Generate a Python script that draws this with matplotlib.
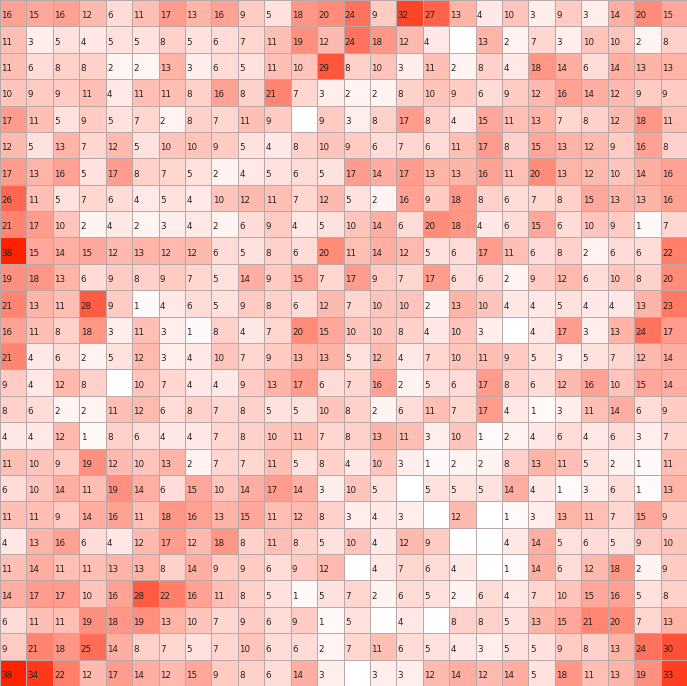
import numpy as np
import matplotlib
matplotlib.use("Agg")
import matplotlib.pyplot as plt
from matplotlib.colors import LinearSegmentedColormap

# counts per cell, row by row from the top (0 = empty cell)
row_00 = [16, 15, 16, 12, 6, 11, 17, 13, 16, 9, 5, 18, 20, 24, 9, 32, 27, 13, 4, 10, 3, 9, 3, 14, 20, 15]
row_01 = [11, 3, 5, 4, 5, 5, 8, 5, 6, 7, 11, 19, 12, 24, 18, 12, 4, 0, 13, 2, 7, 3, 10, 10, 2, 8]
row_02 = [11, 6, 8, 8, 2, 2, 13, 3, 6, 5, 11, 10, 29, 8, 10, 3, 11, 2, 8, 4, 18, 14, 6, 14, 13, 13]
row_03 = [10, 9, 9, 11, 4, 11, 11, 8, 16, 8, 21, 7, 3, 2, 2, 8, 10, 9, 6, 9, 12, 16, 14, 12, 9, 9]
row_04 = [17, 11, 5, 9, 5, 7, 2, 8, 7, 11, 9, 0, 9, 3, 8, 17, 8, 4, 15, 11, 13, 7, 8, 12, 18, 11]
row_05 = [12, 5, 13, 7, 12, 5, 10, 10, 9, 5, 4, 8, 10, 9, 6, 7, 6, 11, 17, 8, 15, 13, 12, 9, 16, 8]
row_06 = [17, 13, 16, 5, 17, 8, 7, 5, 2, 4, 5, 6, 5, 17, 14, 17, 13, 13, 16, 11, 20, 13, 12, 10, 14, 16]
row_07 = [26, 11, 5, 7, 6, 4, 5, 4, 10, 12, 11, 7, 12, 5, 2, 16, 9, 18, 8, 6, 7, 8, 15, 13, 13, 16]
row_08 = [21, 17, 10, 2, 4, 2, 3, 4, 2, 6, 9, 4, 5, 10, 14, 6, 20, 18, 4, 6, 15, 6, 10, 9, 1, 7]
row_09 = [38, 15, 14, 15, 12, 13, 12, 12, 6, 5, 8, 6, 20, 11, 14, 12, 5, 6, 17, 11, 6, 8, 2, 6, 6, 22]
row_10 = [19, 18, 13, 6, 9, 8, 9, 7, 5, 14, 9, 15, 7, 17, 9, 7, 17, 6, 6, 2, 9, 12, 6, 10, 8, 20]
row_11 = [21, 13, 11, 28, 9, 1, 4, 6, 5, 9, 8, 6, 12, 7, 10, 10, 2, 13, 10, 4, 4, 5, 4, 4, 13, 23]
row_12 = [16, 11, 8, 18, 3, 11, 3, 1, 8, 4, 7, 20, 15, 10, 10, 8, 4, 10, 3, 0, 4, 17, 3, 13, 24, 17]
row_13 = [21, 4, 6, 2, 5, 12, 3, 4, 10, 7, 9, 13, 13, 5, 12, 4, 7, 10, 11, 9, 5, 3, 5, 7, 12, 14]
row_14 = [9, 4, 12, 8, 0, 10, 7, 4, 4, 9, 13, 17, 6, 7, 16, 2, 5, 6, 17, 8, 6, 12, 16, 10, 15, 14]
row_15 = [8, 6, 2, 2, 11, 12, 6, 8, 7, 8, 5, 5, 10, 8, 2, 6, 11, 7, 17, 4, 1, 3, 11, 14, 6, 9]
row_16 = [4, 4, 12, 1, 8, 6, 4, 4, 7, 8, 10, 11, 7, 8, 13, 11, 3, 10, 1, 2, 4, 6, 4, 6, 3, 7]
row_17 = [11, 10, 9, 19, 12, 10, 13, 2, 7, 7, 11, 5, 8, 4, 10, 3, 1, 2, 2, 8, 13, 11, 5, 2, 1, 11]
row_18 = [6, 10, 14, 11, 19, 14, 6, 15, 10, 14, 17, 14, 3, 10, 5, 0, 5, 5, 5, 14, 4, 1, 3, 6, 1, 13]
row_19 = [11, 11, 9, 14, 16, 11, 18, 16, 13, 15, 11, 12, 8, 3, 4, 3, 0, 12, 0, 1, 3, 13, 11, 7, 15, 9]
row_20 = [4, 13, 16, 6, 4, 12, 17, 12, 18, 8, 11, 8, 5, 10, 4, 12, 9, 0, 0, 4, 14, 5, 6, 5, 9, 10]
row_21 = [11, 14, 11, 11, 13, 13, 8, 14, 9, 9, 6, 9, 12, 0, 4, 7, 6, 4, 0, 1, 14, 6, 12, 18, 2, 9]
row_22 = [14, 17, 17, 10, 16, 28, 22, 16, 11, 8, 5, 1, 5, 7, 2, 6, 5, 2, 6, 4, 7, 10, 15, 16, 5, 8]
row_23 = [6, 11, 11, 19, 18, 19, 13, 10, 7, 9, 6, 9, 1, 5, 0, 4, 0, 8, 8, 5, 13, 15, 21, 20, 7, 13]
row_24 = [9, 21, 18, 25, 14, 8, 7, 5, 7, 10, 6, 6, 2, 7, 11, 6, 5, 4, 3, 5, 5, 9, 8, 13, 24, 30]
row_25 = [38, 34, 22, 12, 17, 14, 12, 15, 9, 8, 6, 14, 3, 0, 3, 3, 12, 14, 12, 14, 5, 18, 11, 13, 19, 33]

grid = np.array([row_00, row_01, row_02, row_03, row_04, row_05, row_06, row_07, row_08,
                 row_09, row_10, row_11, row_12, row_13, row_14, row_15, row_16, row_17,
                 row_18, row_19, row_20, row_21, row_22, row_23, row_24, row_25])
n_rows, n_cols = grid.shape

cmap = LinearSegmentedColormap.from_list("white_red", ["#ffffff", "#ff2200"])

fig = plt.figure(figsize=(6.87, 6.86), dpi=100)
ax = fig.add_axes([0, 0, 1, 1])
ax.pcolormesh(grid, cmap=cmap, vmin=0, vmax=grid.max(),
              edgecolors="#b8a8a8", linewidth=0.6)
ax.set_xlim(0, n_cols)
ax.set_ylim(n_rows, 0)
ax.axis("off")

for r in range(n_rows):
    for c in range(n_cols):
        v = grid[r, c]
        if v == 0:
            continue
        ax.text(c + 0.05, r + 0.6, str(v), ha="left", va="center",
                fontsize=6.3, color="#222222")

fig.savefig("out.png", dpi=100)
